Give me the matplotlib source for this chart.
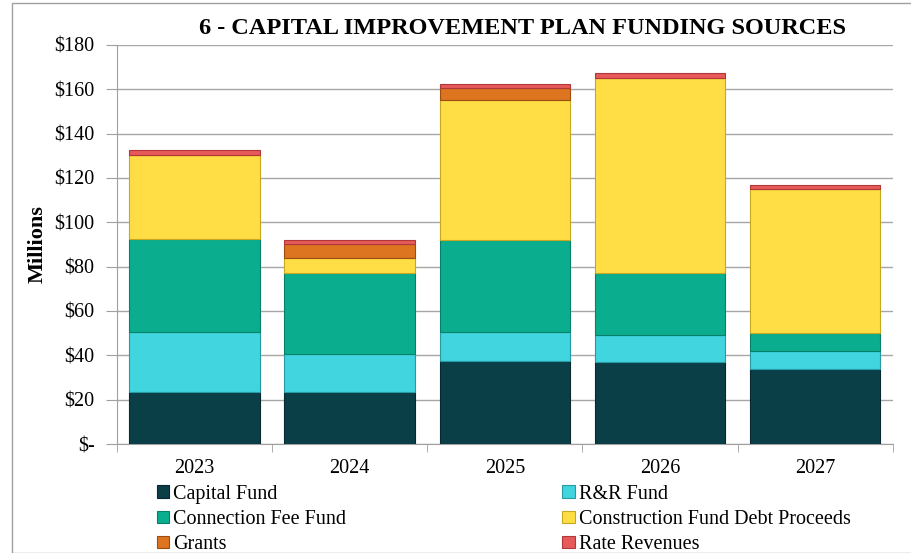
import matplotlib
matplotlib.use("Agg")
import matplotlib.pyplot as plt
import numpy as np
from matplotlib.patches import Rectangle

# Funding sources by year ($ millions)
years = ["2023", "2024", "2025", "2026", "2027"]
capital_fund = [23.5, 23.5, 37.5, 37.0, 34.0]
rr_fund = [27.0, 17.0, 13.0, 12.0, 8.0]
connection_fee_fund = [42.0, 36.5, 41.5, 28.0, 8.0]
construction_debt = [38.0, 7.0, 63.0, 88.0, 65.0]
grants = [0.0, 6.0, 5.5, 0.0, 0.0]
rate_revenues = [2.0, 2.0, 2.0, 2.3, 2.0]

series_names = ["Capital Fund", "R&R Fund", "Connection Fee Fund",
                "Construction Fund Debt Proceeds", "Grants", "Rate Revenues"]
series_values = [capital_fund, rr_fund, connection_fee_fund,
                 construction_debt, grants, rate_revenues]
colors = ["#0b3f48", "#40d5df", "#0aae8e", "#fedd45", "#dc7420", "#e8595a"]
edges = ["#06282e", "#2a9aa2", "#07806a", "#c8a820", "#9c4e10", "#b03838"]

plt.rcParams["font.family"] = ["Liberation Serif", "DejaVu Serif"]

fig = plt.figure(figsize=(9.12, 5.53), dpi=100)
ax = fig.add_axes([0.128, 0.197, 0.851, 0.722])

x = np.arange(len(years))
bottom = np.zeros(len(years))
handles = []
for name, vals, c, ec in zip(series_names, series_values, colors, edges):
    vals = np.array(vals)
    b = ax.bar(x, vals, width=0.84, bottom=bottom, color=c, edgecolor=ec,
               linewidth=0.8, label=name, zorder=3)
    handles.append(b)
    bottom += vals

ax.set_xlim(-0.5, len(years) - 0.5)
ax.set_ylim(0, 180)
ax.set_yticks(np.arange(0, 181, 20))
ax.set_yticklabels(["$-"] + [f"${v}" for v in range(20, 181, 20)], fontsize=14.5)
ax.set_xticks(x)
ax.set_xticklabels(years, fontsize=14.5)
ax.set_xticks(np.arange(-0.5, len(years), 1), minor=True)
ax.tick_params(axis="x", which="major", length=0, pad=11)
ax.tick_params(axis="x", which="minor", length=6, color="#a0a0a0")
ax.tick_params(axis="y", length=8, color="#a0a0a0", pad=8)
ax.grid(axis="y", color="#a6a6a6", linewidth=1, zorder=0)
for s in ["top", "right"]:
    ax.spines[s].set_visible(False)
for s in ["left", "bottom"]:
    ax.spines[s].set_color("#a0a0a0")

ax.set_ylabel("Millions", fontsize=16, fontweight="bold", labelpad=5)

fig.text(0.573, 0.948, "6 - CAPITAL IMPROVEMENT PLAN FUNDING SOURCES",
         ha="center", va="center", fontsize=17.5, fontweight="bold")

# legend order: row-wise in two columns
order = [0, 2, 4, 1, 3, 5]
fig.legend([handles[i] for i in order], [series_names[i] for i in order],
           ncol=2, loc="upper left", bbox_to_anchor=(0.172, 0.123),
           frameon=False, fontsize=14.5, handlelength=0.6, handleheight=0.6,
           handletextpad=0.2, columnspacing=10.75, labelspacing=0.3,
           borderpad=0, borderaxespad=0)

# outer frame of the chart
fig.patches.append(Rectangle((12 / 912, 0), 1 - 12 / 912, 1 - 3 / 553,
                             transform=fig.transFigure, fill=False,
                             edgecolor="#a0a0a0", linewidth=1))

fig.savefig("out.png", dpi=100)
